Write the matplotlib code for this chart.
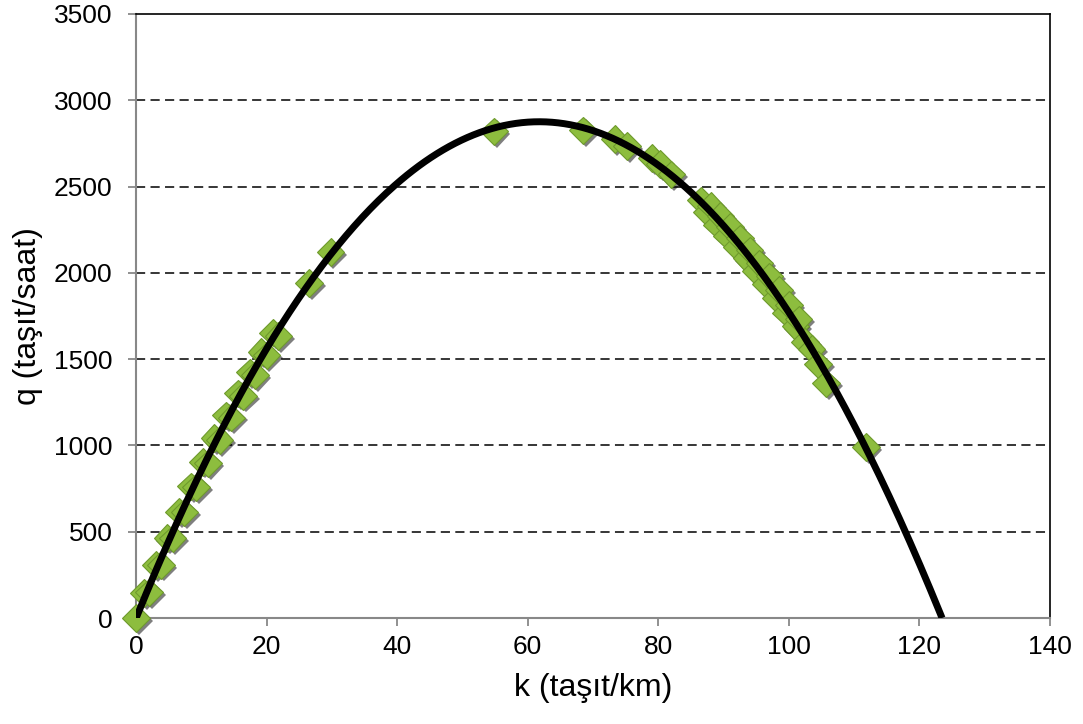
import numpy as np
import matplotlib.pyplot as plt
import matplotlib.patheffects as pe

plt.rcParams['font.family'] = ['Liberation Sans', 'DejaVu Sans']

# observed points: density k (taşıt/km) and flow q (taşıt/saat)
k_obs = [0.0, 1.2, 2.0, 3.0, 3.8, 4.8, 5.6, 6.6, 7.4, 8.4, 9.2, 10.2,
         11.0, 12.0, 12.8, 13.8, 14.6, 15.6, 16.4, 17.4, 18.2, 19.2,
         20.0, 21.0, 21.8,
         26.5, 29.8,
         54.8, 68.5, 73.3, 75.2, 79.0, 80.3, 82.0,
         86.5, 87.5, 88.0, 89.0, 89.5, 90.5, 91.0, 92.0, 92.5, 93.5,
         94.0, 95.0, 95.5, 96.5, 97.0, 98.0, 98.5, 99.5, 100.0, 101.0,
         101.5, 102.5, 103.5, 104.5, 105.7,
         111.8]
q_obs = [0, 145, 148, 307, 308, 464, 462, 616, 612, 763, 757, 905,
         896, 1042, 1031, 1174, 1161, 1302, 1287, 1424, 1407, 1542,
         1522, 1654, 1633,
         1940, 2120,
         2820, 2825, 2775, 2735, 2665, 2630, 2570,
         2420, 2350, 2390, 2280, 2330, 2215, 2265, 2150, 2200, 2085,
         2130, 2010, 2055, 1935, 1980, 1855, 1900, 1770, 1815, 1690,
         1730, 1600, 1560, 1470, 1360,
         990]

x_ticks = [0, 20, 40, 60, 80, 100, 120, 140]
y_ticks = [0, 500, 1000, 1500, 2000, 2500, 3000, 3500]

# 2nd order polynomial trendline, drawn up to where q returns to 0
p = np.polyfit(k_obs, q_obs, 2)
k_end = np.roots(p).real.max()
k_fit = np.linspace(0, k_end, 400)
q_fit = np.polyval(p, k_fit)

fig = plt.figure(figsize=(10.83, 7.24), dpi=100)
ax = fig.add_axes([0.1256, 0.1464, 0.8439, 0.8343])

for y in y_ticks[1:-1]:
    ax.axhline(y, color='black', lw=1.1, ls=(0, (6, 3.5)), zorder=1)

ax.plot(k_obs, q_obs, ls='none', marker='D', ms=14, mfc='#8dbd3e',
        mec='#6e9a2c', mew=0.8, zorder=3, clip_on=False,
        path_effects=[pe.SimplePatchShadow(offset=(2, -2), shadow_rgbFace='black', alpha=0.5),
                      pe.Normal()])
ax.plot(k_fit, q_fit, color='black', lw=5, solid_capstyle='butt', zorder=4)

ax.set_xlim(0, 140)
ax.set_ylim(0, 3500)
ax.set_xticks(x_ticks)
ax.set_yticks(y_ticks)
ax.tick_params(axis='both', labelsize=19, colors='#888888', labelcolor='black',
               length=6, width=1.3, direction='out')
ax.tick_params(axis='x', pad=6)
ax.tick_params(axis='y', pad=11)

for side in ['left', 'bottom']:
    ax.spines[side].set_color('#888888')
    ax.spines[side].set_linewidth(1.5)
for side in ['top', 'right']:
    ax.spines[side].set_color('black')
    ax.spines[side].set_linewidth(1.2)

ax.set_xlabel('k (taşıt/km)', fontsize=23, labelpad=10)
ax.set_ylabel('q (taşıt/saat)', fontsize=23, labelpad=8)

fig.savefig('out.png', dpi=100)
